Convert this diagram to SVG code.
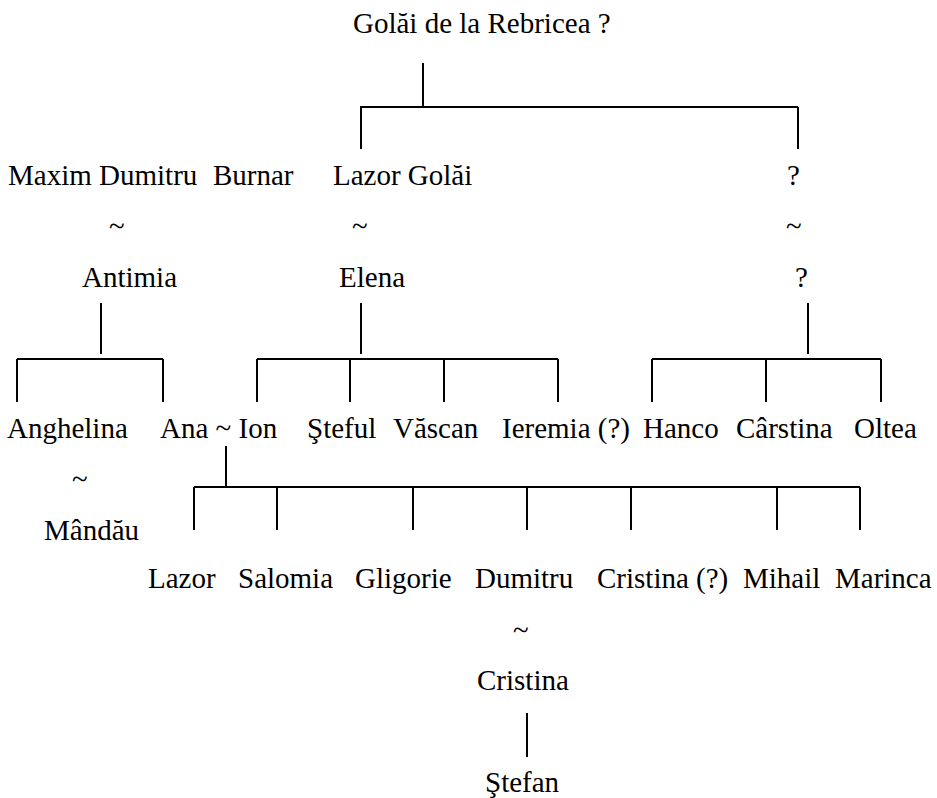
<svg xmlns="http://www.w3.org/2000/svg" width="937" height="798" viewBox="0 0 937 798">
<style>
text { font-family: "Liberation Serif", "Times New Roman", serif; font-size: 29px; fill: #000; }
.ln { stroke: #000; stroke-width: 2; fill: none; }
</style>
<rect width="937" height="798" fill="#fff"/>
<g id="connectors">
  <path class="ln" d="M423,63 V107 M360,107 H798 M361,107 V149 M798,107 V149"/>
  <path class="ln" d="M101,303 V354 M17,359 H163 M17,359 V402 M163,359 V402"/>
  <path class="ln" d="M361,303 V354 M257,359 H558 M257,359 V402 M350,359 V402 M444,359 V402 M558,359 V402"/>
  <path class="ln" d="M808,303 V354 M652,359 H881 M652,359 V402 M766,359 V402 M881,359 V402"/>
  <path class="ln" d="M226,446 V487 M194,487 H860 M194,487 V530 M277,487 V530 M413,487 V530 M527,487 V530 M631,487 V530 M777,487 V530 M860,487 V530"/>
  <path class="ln" d="M527,713 V757"/>
</g>
<g id="n-golai"><text x="353" y="33">Golăi de la Rebricea ?</text></g>
<g id="n-maxim"><text x="8" y="185">Maxim Dumitru</text></g>
<g id="n-burnar"><text x="213" y="185">Burnar</text></g>
<g id="n-lazor-golai"><text x="333" y="185">Lazor Golăi</text></g>
<g id="n-unknown1"><text x="787" y="185">?</text></g>
<g id="m-maxim"><text x="109" y="236">~</text></g>
<g id="m-lazor"><text x="352" y="236">~</text></g>
<g id="m-unknown"><text x="786" y="236">~</text></g>
<g id="n-antimia"><text x="82" y="287">Antimia</text></g>
<g id="n-elena"><text x="339" y="287">Elena</text></g>
<g id="n-unknown2"><text x="795" y="287">?</text></g>
<g id="n-anghelina"><text x="7" y="438">Anghelina</text></g>
<g id="n-ana-ion"><text x="160" y="438">Ana ~ Ion</text></g>
<g id="n-steful"><text x="307" y="438">Şteful</text></g>
<g id="n-vascan"><text x="393" y="438">Văscan</text></g>
<g id="n-ieremia"><text x="502" y="438">Ieremia (?)</text></g>
<g id="n-hanco"><text x="643" y="438">Hanco</text></g>
<g id="n-carstina"><text x="736" y="438">Cârstina</text></g>
<g id="n-oltea"><text x="854" y="438">Oltea</text></g>
<g id="m-anghelina"><text x="72" y="489">~</text></g>
<g id="n-mandau"><text x="44" y="540">Mândău</text></g>
<g id="n-lazor"><text x="148" y="588">Lazor</text></g>
<g id="n-salomia"><text x="238" y="588">Salomia</text></g>
<g id="n-gligorie"><text x="355" y="588">Gligorie</text></g>
<g id="n-dumitru"><text x="475" y="588">Dumitru</text></g>
<g id="n-cristina-q"><text x="597" y="588">Cristina (?)</text></g>
<g id="n-mihail"><text x="743" y="588">Mihail</text></g>
<g id="n-marinca"><text x="835" y="588">Marinca</text></g>
<g id="m-dumitru"><text x="513" y="640">~</text></g>
<g id="n-cristina"><text x="477" y="690">Cristina</text></g>
<g id="n-stefan"><text x="485" y="792">Ştefan</text></g>
</svg>
